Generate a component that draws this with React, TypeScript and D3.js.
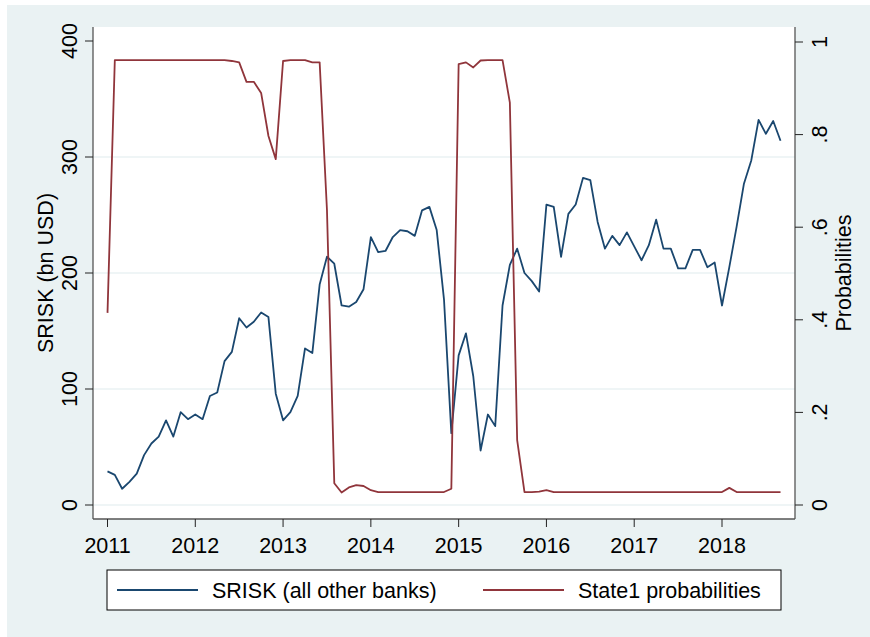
import React from 'react';
import * as d3 from 'd3';

const W = 870;
const H = 637;

// Monthly observations starting January 2011
const startYear = 2011;

// SRISK of all other banks, bn USD
const sriskValues = [
  29, 26, 14, 20, 27, 43, 53, 59, 73, 59, 80, 74,
  78, 74, 94, 97, 124, 132, 161, 153, 158, 166, 162, 96,
  73, 80, 94, 135, 131, 190, 214, 208, 172, 171, 175, 186,
  231, 218, 219, 231, 237, 236, 232, 254, 257, 237, 177, 62,
  129, 148, 111, 47, 78, 68, 172, 207, 221, 200, 193, 184,
  259, 257, 214, 251, 259, 282, 280, 244, 221, 232, 224, 235,
  223, 211, 224, 246, 221, 221, 204, 204, 220, 220, 205, 209,
  172, 205, 240, 277, 297, 332, 320, 331, 314,
];

// Smoothed probability of regime 1
const state1Prob = [
  0.415, 0.961, 0.961, 0.961, 0.961, 0.961, 0.961, 0.961, 0.961, 0.961, 0.961, 0.961,
  0.961, 0.961, 0.961, 0.961, 0.961, 0.959, 0.956, 0.914, 0.914, 0.89, 0.797, 0.747,
  0.959, 0.961, 0.961, 0.961, 0.956, 0.956, 0.637, 0.047, 0.027, 0.038, 0.043, 0.041,
  0.032, 0.028, 0.028, 0.028, 0.028, 0.028, 0.028, 0.028, 0.028, 0.028, 0.028, 0.035,
  0.952, 0.956, 0.945, 0.96, 0.961, 0.961, 0.961, 0.869, 0.14, 0.028, 0.028, 0.029,
  0.032, 0.028, 0.028, 0.028, 0.028, 0.028, 0.028, 0.028, 0.028, 0.028, 0.028, 0.028,
  0.028, 0.028, 0.028, 0.028, 0.028, 0.028, 0.028, 0.028, 0.028, 0.028, 0.028, 0.028,
  0.028, 0.037, 0.028, 0.028, 0.028, 0.028, 0.028, 0.028, 0.028,
];

const yearTicks = [2011, 2012, 2013, 2014, 2015, 2016, 2017, 2018];
const sriskTicks = [0, 100, 200, 300, 400];
const sriskGrid = [0, 100, 200, 300];
const probTicks = [0, 0.2, 0.4, 0.6, 0.8, 1];
const probTickLabels = ['0', '.2', '.4', '.6', '.8', '1'];

const seriesNames = ['SRISK (all other banks)', 'State1 probabilities'];
const seriesColors = ['#1a476f', '#90353b'];

const FONT = '"Liberation Sans", Arial, Helvetica, sans-serif';
const FS = 21.5;
const BG = '#eaf2f3';
const LW = 1.8;

const plot = { left: 93, right: 795, top: 27, bottom: 519 };

export default function App() {
  const x = d3.scaleLinear().domain([2011, 2018]).range([107.5, 722]);
  const yL = d3.scaleLinear().domain([0, 400]).range([505, 41]);
  const yR = d3.scaleLinear().domain([0, 1]).range([505, 42]);
  const dateOf = (i: number) => startYear + i / 12;

  const sriskPath = d3
    .line<number>()
    .x((_, i) => x(dateOf(i)))
    .y((d) => yL(d))(sriskValues) as string;
  const probPath = d3
    .line<number>()
    .x((_, i) => x(dateOf(i)))
    .y((d) => yR(d))(state1Prob) as string;

  const axisColor = '#555';
  const tickColor = '#222';

  const legend = { x: 107, y: 570, w: 674, h: 40 };

  return (
    <svg
      width={W}
      height={H}
      style={{ position: 'absolute', left: 0, top: 0 }}
      fontFamily={FONT}
    >
      <rect x={0} y={0} width={W} height={H} fill="#fff" />
      <rect x={7} y={5} width={W - 7} height={H - 5} fill={BG} />
      <rect
        x={plot.left}
        y={plot.top}
        width={plot.right - plot.left}
        height={plot.bottom - plot.top}
        fill="#fff"
      />

      {/* horizontal grid */}
      {sriskGrid.map((v) => (
        <line
          key={`g${v}`}
          x1={plot.left}
          x2={plot.right}
          y1={yL(v)}
          y2={yL(v)}
          stroke={BG}
          strokeWidth={1.4}
        />
      ))}

      {/* series */}
      <path d={sriskPath} fill="none" stroke={seriesColors[0]} strokeWidth={LW} strokeLinejoin="round" />
      <path d={probPath} fill="none" stroke={seriesColors[1]} strokeWidth={LW} strokeLinejoin="round" />

      {/* axes */}
      <line x1={plot.left} x2={plot.left} y1={plot.top} y2={plot.bottom} stroke={axisColor} strokeWidth={1.3} />
      <line x1={plot.right} x2={plot.right} y1={plot.top} y2={plot.bottom} stroke={axisColor} strokeWidth={1.3} />
      <line x1={plot.left} x2={plot.right} y1={plot.bottom} y2={plot.bottom} stroke={axisColor} strokeWidth={1.3} />

      {/* left axis */}
      {sriskTicks.map((v) => (
        <g key={`l${v}`}>
          <line x1={plot.left - 8} x2={plot.left} y1={yL(v)} y2={yL(v)} stroke={tickColor} strokeWidth={1} />
          <text
            transform={`translate(77,${yL(v)}) rotate(-90)`}
            textAnchor="middle"
            fontSize={FS}
            fill="#000"
          >
            {v}
          </text>
        </g>
      ))}
      <text
        transform={`translate(53,${(plot.top + plot.bottom) / 2}) rotate(-90)`}
        textAnchor="middle"
        fontSize={FS}
        fill="#000"
      >
        SRISK (bn USD)
      </text>

      {/* right axis */}
      {probTicks.map((v, i) => (
        <g key={`r${v}`}>
          <line x1={plot.right} x2={plot.right + 8} y1={yR(v)} y2={yR(v)} stroke={tickColor} strokeWidth={1} />
          <text
            transform={`translate(827,${yR(v)}) rotate(-90)`}
            textAnchor="middle"
            fontSize={FS}
            fill="#000"
          >
            {probTickLabels[i]}
          </text>
        </g>
      ))}
      <text
        transform={`translate(851,${(plot.top + plot.bottom) / 2}) rotate(-90)`}
        textAnchor="middle"
        fontSize={FS}
        fill="#000"
      >
        Probabilities
      </text>

      {/* bottom axis */}
      {yearTicks.map((yr) => (
        <g key={`x${yr}`}>
          <line x1={x(yr)} x2={x(yr)} y1={plot.bottom} y2={plot.bottom + 8} stroke={tickColor} strokeWidth={1} />
          <text x={x(yr)} y={553} textAnchor="middle" fontSize={FS} fill="#000">
            {yr}
          </text>
        </g>
      ))}

      {/* legend */}
      <rect x={legend.x} y={legend.y} width={legend.w} height={legend.h} fill="#fff" stroke="#000" strokeWidth={1} />
      <line x1={117} x2={198} y1={590} y2={590} stroke={seriesColors[0]} strokeWidth={LW} />
      <text x={212} y={597.5} fontSize={FS} fill="#000">
        {seriesNames[0]}
      </text>
      <line x1={483} x2={564} y1={590} y2={590} stroke={seriesColors[1]} strokeWidth={LW} />
      <text x={578} y={597.5} fontSize={FS} fill="#000">
        {seriesNames[1]}
      </text>
    </svg>
  );
}
